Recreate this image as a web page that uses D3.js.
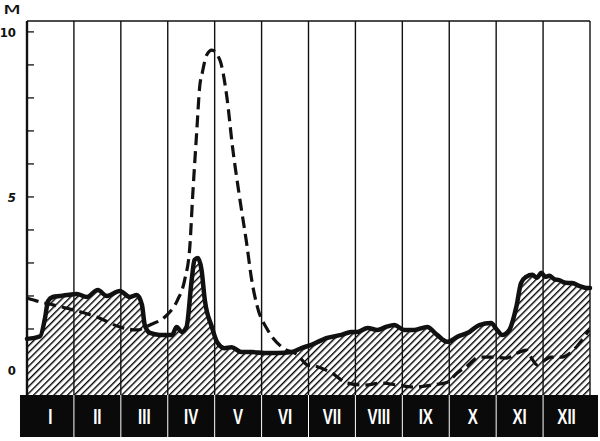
<!DOCTYPE html>
<html><head><meta charset="utf-8">
<script src="https://cdn.jsdelivr.net/npm/d3@7"></script>
<style>html,body{margin:0;padding:0;background:#fff;}svg{display:block;}</style>
</head><body>
<script>
// ---- data ----
const monthLabels = ["I","II","III","IV","V","VI","VII","VIII","IX","X","XI","XII"];
const yTickLabels = [0, 5, 10];
const yMinorTicks = [1,2,3,4,5,6,7,8,9,10];
const unitLabel = "м";

// solid line (month position, metres)
const solidT = [0.00,0.28,0.38,0.45,0.55,0.70,0.85,1.06,1.28,1.51,1.70,1.98,2.19,2.34,2.45,2.51,2.62,2.83,3.09,3.19,3.30,3.40,3.51,3.57,3.64,3.72,3.79,3.94,4.06,4.21,4.36,4.57,4.79,5.06,5.34,5.64,5.85,6.06,6.40,6.70,6.91,7.04,7.26,7.47,7.65,7.83,8.04,8.26,8.53,8.74,8.96,9.17,9.43,9.64,9.89,10.02,10.13,10.28,10.43,10.53,10.64,10.77,10.87,10.96,11.05,11.13,11.25,11.34,11.48,11.62,11.78,11.94,12.00];
const solidV = [0.70,0.78,1.30,1.85,1.97,2.00,2.03,2.06,1.97,2.18,2.00,2.15,1.97,2.03,1.73,1.12,0.88,0.82,0.82,1.06,0.91,1.06,2.48,3.09,3.15,2.79,1.88,1.06,0.58,0.42,0.45,0.30,0.30,0.27,0.27,0.30,0.42,0.52,0.73,0.82,0.91,0.91,1.03,0.97,1.06,1.12,0.97,0.97,1.06,0.82,0.61,0.76,0.91,1.12,1.18,0.97,0.82,0.97,1.67,2.39,2.58,2.64,2.55,2.70,2.58,2.61,2.50,2.48,2.40,2.39,2.30,2.24,2.24];

// dashed line (month position, metres)
const dashT = [0.00,0.28,0.55,0.98,1.49,1.98,2.34,2.62,2.98,3.21,3.36,3.47,3.53,3.62,3.68,3.74,3.83,3.94,4.11,4.26,4.38,4.53,4.68,4.79,4.91,5.13,5.43,5.77,5.98,6.13,6.49,6.83,7.19,7.55,7.89,8.26,8.62,8.96,9.17,9.36,9.64,9.91,10.21,10.45,10.64,10.74,10.87,10.98,11.17,11.40,11.60,11.83,11.98];
const dashV = [1.94,1.82,1.73,1.58,1.36,1.06,0.97,1.12,1.42,1.88,2.48,3.48,5.00,7.03,8.33,8.79,9.30,9.45,9.15,8.03,6.52,5.00,3.61,2.48,1.67,0.97,0.45,0.21,-0.09,-0.12,-0.33,-0.64,-0.70,-0.64,-0.70,-0.76,-0.70,-0.61,-0.33,-0.15,0.15,0.15,0.12,0.27,0.36,0.15,-0.09,0.00,0.15,0.15,0.30,0.67,0.97];

// ---- drawing ----
const W = 600, H = 441;
const svg = d3.select("body").append("svg").attr("width", W).attr("height", H);

const x = d3.scaleLinear().domain([0, 12]).range([27, 590]);
const y = d3.scaleLinear().domain([-1, 10.33]).range([395, 21]);

const defs = svg.append("defs");
const pat = defs.append("pattern").attr("id", "hatch")
  .attr("patternUnits", "userSpaceOnUse").attr("width", 4.8).attr("height", 4.8)
  .attr("patternTransform", "rotate(45)");
pat.append("line").attr("x1", 0.7).attr("y1", 0).attr("x2", 0.7).attr("y2", 4.8)
  .attr("stroke", "#000").attr("stroke-width", 1.4);

const solid = solidT.map((t, i) => [t, solidV[i]]);
const dashed = dashT.map((t, i) => [t, dashV[i]]);

// hatched area
svg.append("path").datum(solid)
  .attr("d", d3.area().x(d => x(d[0])).y0(y(-1)).y1(d => y(d[1])).curve(d3.curveMonotoneX))
  .attr("fill", "url(#hatch)");

// month grid lines
svg.append("g").selectAll("line").data(d3.range(0, 13)).join("line")
  .attr("x1", d => x(d)).attr("x2", d => x(d))
  .attr("y1", y(10.33)).attr("y2", y(-1))
  .attr("stroke", "#111").attr("stroke-width", d => d === 0 ? 2.4 : 1.4);

// top border
svg.append("line").attr("x1", x(0)).attr("x2", x(12)).attr("y1", y(10.33)).attr("y2", y(10.33))
  .attr("stroke", "#111").attr("stroke-width", 1.6);

// y ticks (inward)
svg.append("g").selectAll("line").data(yMinorTicks).join("line")
  .attr("x1", x(0)).attr("x2", x(0) + 7)
  .attr("y1", d => y(d)).attr("y2", d => y(d))
  .attr("stroke", "#111").attr("stroke-width", 1.3);

// y tick labels
const labelOffset = {0: 8, 5: 0, 10: 0};
svg.append("g").selectAll("text").data(yTickLabels).join("text")
  .attr("x", 16).attr("y", d => y(d) + labelOffset[d])
  .attr("dy", "0.36em").attr("text-anchor", "end")
  .attr("font-family", "DejaVu Sans Condensed, DejaVu Sans, sans-serif").attr("font-weight", "bold")
  .attr("font-size", 13).attr("fill", "#111")
  .attr("font-style", d => d === 5 ? "italic" : "normal")
  .text(d => d);

// unit label
svg.append("text").attr("transform", "translate(3,14) scale(1.6,1)")
  .attr("font-family", "DejaVu Sans, sans-serif").attr("font-size", 15)
  .attr("fill", "#111").text(unitLabel);

// dashed line
svg.append("path").datum(dashed)
  .attr("d", d3.line().x(d => x(d[0])).y(d => y(d[1])).curve(d3.curveMonotoneX))
  .attr("fill", "none").attr("stroke", "#111").attr("stroke-width", 3.2)
  .attr("stroke-dasharray", "12,6");

// solid line
svg.append("path").datum(solid)
  .attr("d", d3.line().x(d => x(d[0])).y(d => y(d[1])).curve(d3.curveMonotoneX))
  .attr("fill", "none").attr("stroke", "#111").attr("stroke-width", 4.5)
  .attr("stroke-linejoin", "round").attr("stroke-linecap", "round");

// month band
const bandTop = y(-1), bandH = 42;
svg.append("rect").attr("x", 20).attr("y", bandTop).attr("width", 578).attr("height", bandH)
  .attr("fill", "#0a0a0a");
svg.append("g").selectAll("line").data(d3.range(1, 12)).join("line")
  .attr("x1", d => x(d)).attr("x2", d => x(d))
  .attr("y1", bandTop).attr("y2", bandTop + bandH)
  .attr("stroke", "#fff").attr("stroke-width", 1);
svg.append("g").selectAll("text").data(monthLabels).join("text")
  .attr("transform", (d, i) => `translate(${x(i + 0.5)},${bandTop + 29}) scale(0.72,1.05)`)
  .attr("text-anchor", "middle")
  .attr("font-family", "Liberation Sans, Arial, sans-serif").attr("font-weight", "bold")
  .attr("font-size", 21).attr("fill", "#fff")
  .text(d => d);
</script>
</body></html>
